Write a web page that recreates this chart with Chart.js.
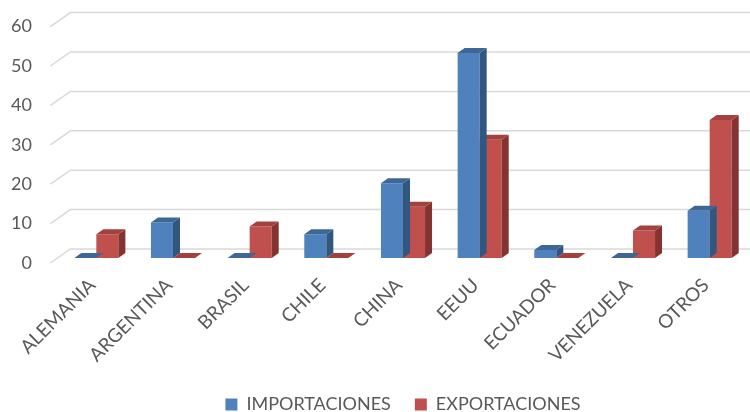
<!DOCTYPE html>
<html>
<head>
<meta charset="utf-8">
<script src="https://cdn.jsdelivr.net/npm/chart.js@4"></script>
<style>
  html, body { margin: 0; padding: 0; background: #fff; }
  #wrap { width: 750px; height: 412px; position: relative; }
</style>
</head>
<body>
<div id="wrap"><canvas id="tradeChart"></canvas></div>
<script>
// Países y valores por serie
const paises = ['ALEMANIA', 'ARGENTINA', 'BRASIL', 'CHILE', 'CHINA', 'EEUU', 'ECUADOR', 'VENEZUELA', 'OTROS'];
const importaciones = [0, 9, 0, 6, 19, 52, 2, 0, 12];
const exportaciones = [6, 0, 8, 0, 13, 30, 0, 7, 35];
const yTicks = [0, 10, 20, 30, 40, 50, 60];

const colores = {
    imp: { front: '#4F81BD', top: '#3C6797', side: '#32577F' },
    exp: { front: '#C0504D', top: '#A2413E', side: '#853331' }
};

// profundidad de las barras y desplazamientos del piso / pared de fondo
const barDepth = { dx: 7, dy: -5 };
const backWall = { dx: 12.4, dy: -9 };
const frontEdge = { dx: -7.6, dy: 5 };

// Pared de fondo y líneas diagonales del piso
const wallPlugin = {
    id: 'wall3d',
    beforeDatasetsDraw(chart) {
        const { ctx, chartArea, scales: { y } } = chart;
        ctx.save();
        ctx.strokeStyle = '#D9D9D9';
        ctx.lineWidth = 1.5;
        yTicks.forEach(v => {
            const py = y.getPixelForValue(v);
            ctx.beginPath();
            ctx.moveTo(chartArea.left + frontEdge.dx, py + frontEdge.dy);
            ctx.lineTo(chartArea.left + backWall.dx, py + backWall.dy);
            ctx.lineTo(chart.width, py + backWall.dy);
            ctx.stroke();
        });
        ctx.restore();
    },
    // caras superior y lateral de cada barra
    afterDatasetDraw(chart, args) {
        const { ctx } = chart;
        const meta = args.meta;
        const c = args.index === 0 ? colores.imp : colores.exp;
        ctx.save();
        meta.data.forEach(bar => {
            const { x, y, base, width } = bar.getProps(['x', 'y', 'base', 'width'], true);
            const x1 = x - width / 2;
            const x2 = x + width / 2;
            // lateral
            ctx.fillStyle = c.side;
            ctx.beginPath();
            ctx.moveTo(x2, y);
            ctx.lineTo(x2 + barDepth.dx, y + barDepth.dy);
            ctx.lineTo(x2 + barDepth.dx, base + barDepth.dy);
            ctx.lineTo(x2, base);
            ctx.closePath();
            ctx.fill();
            // superior
            ctx.fillStyle = c.top;
            ctx.beginPath();
            ctx.moveTo(x1, y);
            ctx.lineTo(x2, y);
            ctx.lineTo(x2 + barDepth.dx, y + barDepth.dy);
            ctx.lineTo(x1 + barDepth.dx, y + barDepth.dy);
            ctx.closePath();
            ctx.fill();
        });
        ctx.restore();
    }
};

const ctx = document.getElementById('tradeChart').getContext('2d');
new Chart(ctx, {
    type: 'bar',
    data: {
        labels: paises,
        datasets: [
            {
                label: 'IMPORTACIONES',
                data: importaciones,
                backgroundColor: colores.imp.front,
                borderWidth: 0
            },
            {
                label: 'EXPORTACIONES',
                data: exportaciones,
                backgroundColor: colores.exp.front,
                borderWidth: 0
            }
        ]
    },
    options: {
        responsive: true,
        maintainAspectRatio: false,
        animation: false,
        layout: { padding: { top: 21.6, right: 2, left: 0, bottom: -11.5 } },
        datasets: {
            bar: { barPercentage: 1, categoryPercentage: 0.575 }
        },
        plugins: {
            legend: {
                position: 'bottom',
                fullSize: false,
                labels: {
                    boxWidth: 12,
                    boxHeight: 12,
                    padding: 24,
                    color: '#595959',
                    font: { family: 'Lato', size: 18 }
                }
            },
            tooltip: { enabled: false }
        },
        scales: {
            x: {
                grid: { display: false },
                border: { display: false },
                ticks: {
                    color: '#595959',
                    font: { family: 'Lato', size: 19 },
                    minRotation: 45,
                    maxRotation: 45,
                    padding: 8,
                    labelOffset: -4
                },
                afterFit(scale) {
                    scale.height = 113.5;
                    scale.paddingLeft = 0;
                    scale.paddingRight = 0;
                }
            },
            y: {
                min: 0,
                max: 60,
                grid: { display: false },
                border: { display: false },
                ticks: {
                    stepSize: 10,
                    color: '#595959',
                    font: { family: 'Lato', size: 18 },
                    padding: 18,
                    labelOffset: 5
                },
                afterFit(scale) {
                    scale.width = 58;
                    scale.paddingTop = 0;
                    scale.paddingBottom = 0;
                }
            }
        }
    },
    plugins: [wallPlugin]
});
</script>
</body>
</html>
